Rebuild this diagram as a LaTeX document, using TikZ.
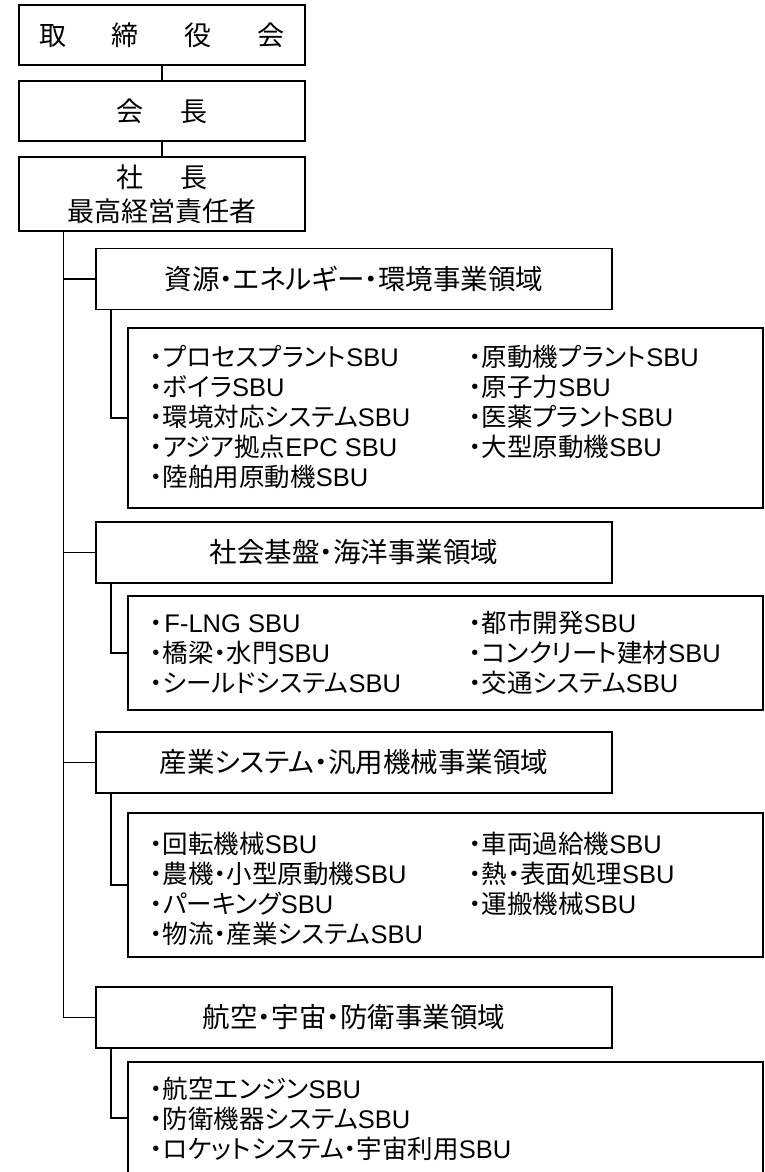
\documentclass[tikz,border=0pt]{standalone}
\usepackage{fontspec}
\setmainfont{Noto Sans CJK JP}[RawFeature={+palt}]
\newfontfamily\cjkfull{Noto Sans CJK JP}
\newfontfamily\latf{Liberation Sans}
\newcommand\mysbu{{\latf SBU}}
\begin{document}
\begin{tikzpicture}[x=1pt,y=-1pt,
  frame/.style={draw, line width=1.8pt},
  topbox/.style={frame, minimum width=286pt, inner sep=0pt, align=center, font=\cjkfull\fontsize{27}{34}\selectfont},
  dombox/.style={frame, minimum width=516pt, minimum height=61pt, inner sep=0pt, font=\fontsize{27.5}{33}\selectfont},
  sbubox/.style={frame, minimum width=635pt, inner sep=0pt},
  item/.style={anchor=base west, inner sep=0pt, font=\fontsize{25.5}{28}\selectfont},
  conn/.style={line width=1.8pt}]
\useasboundingbox (0,0) rectangle (765,1172);
\clip (0,0) rectangle (765,1172);
\fill[white] (0,0) rectangle (765,1172);

% top chain
\node[topbox, minimum height=60pt] (board) at (162,35) {取\hspace{46pt}締\hspace{46pt}役\hspace{46pt}会};
\node[topbox, minimum height=60pt] (chair) at (162,111) {会\hspace{38pt}長};
\node[topbox, minimum height=74pt] (pres) at (162,194) {社\hspace{38pt}長\\最高経営責任者};
\draw[conn] (board.south) -- (chair.north);
\draw[conn] (chair.south) -- (pres.north);

% domains
\node[dombox] (d1) at (354,279) {資源・エネルギー・環境事業領域};
\node[dombox] (d2) at (354,552.5) {社会基盤・海洋事業領域};
\node[dombox] (d3) at (354,762.5) {産業システム・汎用機械事業領域};
\node[dombox] (d4) at (354,1017.5) {航空・宇宙・防衛事業領域};

% SBU boxes
\node[sbubox, minimum height=180pt] (s1) at (445.5,418) {};
\node[sbubox, minimum height=114pt] (s2) at (445.5,653) {};
\node[sbubox, minimum height=144pt] (s3) at (445.5,885) {};
\node[sbubox, minimum height=112pt] (s4) at (445.5,1118) {};

% trunk and branches
\coordinate (trunk) at ([xshift=-98.5pt]pres.south);
\draw[conn] (trunk) |- (d4.west);
\foreach \d in {d1,d2,d3} \draw[conn] (trunk |- \d.west) -- (\d.west);
\foreach \d/\s in {d1/s1,d2/s2,d3/s3,d4/s4} \draw[conn] ([xshift=16pt]\d.south west) |- (\s.west);

% items box 1
\node[item] (a1) at (150,366) {・プロセスプラント\mysbu};
\node[item] (a2) at (150,396) {・ボイラ\mysbu};
\node[item] (a3) at (150,426) {・環境対応システム\mysbu};
\node[item] (a4) at (150,456) {・アジア拠点{\latf EPC SBU}};
\node[item] (a5) at (150,486) {・陸舶用原動機\mysbu};
\node[item] (a6) at (469,366) {・原動機プラント\mysbu};
\node[item] (a7) at (469,396) {・原子力\mysbu};
\node[item] (a8) at (469,426) {・医薬プラント\mysbu};
\node[item] (a9) at (469,456) {・大型原動機\mysbu};

% items box 2
\node[item] (b1) at (150,632) {・\kern1.5pt{\latf F-LNG SBU}};
\node[item] (b2) at (150,662) {・橋梁・水門\mysbu};
\node[item] (b3) at (150,692) {・シールドシステム\mysbu};
\node[item] (b4) at (469,632) {・都市開発\mysbu};
\node[item] (b5) at (469,662) {・コンクリート建材\mysbu};
\node[item] (b6) at (469,692) {・交通システム\mysbu};

% items box 3
\node[item] (c1) at (150,853) {・回転機械\mysbu};
\node[item] (c2) at (150,883) {・農機・小型原動機\mysbu};
\node[item] (c3) at (150,913) {・パーキング\mysbu};
\node[item] (c4) at (150,943) {・物流・産業システム\mysbu};
\node[item] (c5) at (469,853) {・車両過給機\mysbu};
\node[item] (c6) at (469,883) {・熱・表面処理\mysbu};
\node[item] (c7) at (469,913) {・運搬機械\mysbu};

% items box 4
\node[item] (e1) at (150,1098) {・航空エンジン\mysbu};
\node[item] (e2) at (150,1128) {・防衛機器システム\mysbu};
\node[item] (e3) at (150,1158) {・ロケットシステム・宇宙利用\mysbu};
\end{tikzpicture}
\end{document}
